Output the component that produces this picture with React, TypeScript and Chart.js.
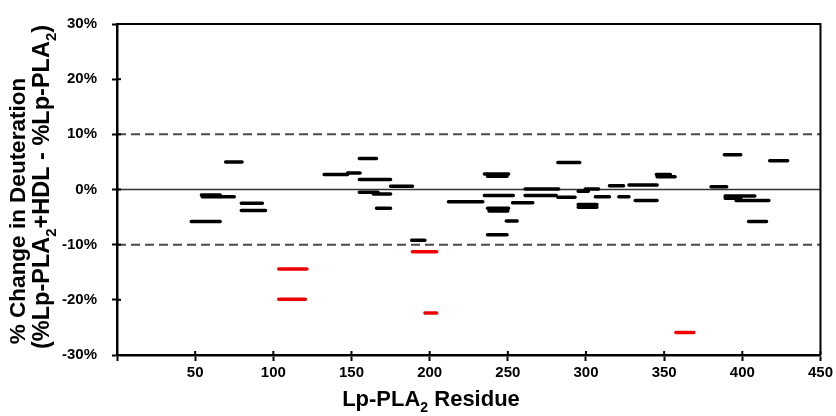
import { useEffect, useRef } from 'react';
import { Chart, registerables } from 'chart.js';

Chart.register(...registerables);

// Residue ranges (start, end) and % change for black (not significant) segments
const blackStart = [47.5, 54, 54.5, 69.5, 79.5, 79.5, 132.5, 147.5, 155, 155, 175, 155, 164, 166, 188.5, 212, 235, 237, 235, 237, 238, 249, 237, 253, 261, 261, 282, 282, 295, 299.5, 295, 295, 306, 315, 321, 327.5, 331.5, 345, 345.5, 380, 388.5, 417.5, 389, 389, 396, 404];
const blackEnd = [66, 66, 75, 80, 93, 95, 147.5, 155.5, 166, 175, 189, 167, 175, 175, 197, 234, 250.5, 249.5, 253.5, 250.5, 250, 256, 249.5, 266, 282.5, 281, 296, 293, 301.5, 308, 307, 307, 315, 324, 327.5, 345.5, 345.5, 354, 357, 390, 399, 429, 408, 399, 417, 415.5];
const blackValue = [-5.8, -1.0, -1.3, 5.0, -2.5, -3.8, 2.7, 3.0, 5.6, 1.8, 0.6, -0.5, -0.8, -3.4, -9.2, -2.2, 2.8, 2.4, -1.1, -3.4, -3.9, -5.7, -8.2, -2.4, 0.1, -1.1, 4.9, -1.4, -0.3, 0.1, -2.7, -3.2, -1.3, 0.7, -1.3, 0.8, -2.0, 2.7, 2.3, 0.5, 6.3, 5.2, -1.2, -1.6, -2.0, -5.8];

// Significant (red) segments
const redStart = [103.5, 103.5, 189, 197, 357.5];
const redEnd = [121.5, 120.5, 204.5, 204.5, 369];
const redValue = [-14.4, -19.9, -11.3, -22.4, -25.9];

// Reference levels
const refLevels = [10, 0, -10];
const refDashed = [true, false, true];

const xMin = 0;
const xMax = 450;
const xStep = 50;
const yMin = -30;
const yMax = 30;
const yStep = 10;

const xTitleParts = [
  { text: 'Lp-PLA', sub: false },
  { text: '2', sub: true },
  { text: ' Residue', sub: false },
];
const yTitle1Parts = [{ text: '% Change in Deuteration', sub: false }];
const yTitle2Parts = [
  { text: '(%Lp-PLA', sub: false },
  { text: '2', sub: true },
  { text: '+HDL - %Lp-PLA', sub: false },
  { text: '2', sub: true },
  { text: ')', sub: false },
];

const FAMILY = '"Liberation Sans", Arial, Helvetica, sans-serif';

function buildSegments(starts: number[], ends: number[], values: number[]) {
  const pts: { x: number; y: number | null }[] = [];
  for (let i = 0; i < starts.length; i++) {
    pts.push({ x: starts[i], y: values[i] });
    pts.push({ x: ends[i], y: values[i] });
    pts.push({ x: ends[i], y: null });
  }
  return pts;
}

type Part = { text: string; sub: boolean };

function drawRich(ctx: CanvasRenderingContext2D, parts: Part[], cx: number, cy: number, size: number, rotate: boolean) {
  ctx.save();
  ctx.translate(cx, cy);
  if (rotate) ctx.rotate(-Math.PI / 2);
  const mainFont = `bold ${size}px ${FAMILY}`;
  const subFont = `bold ${Math.round(size * 0.62)}px ${FAMILY}`;
  let total = 0;
  const widths: number[] = [];
  for (const p of parts) {
    ctx.font = p.sub ? subFont : mainFont;
    const w = ctx.measureText(p.text).width;
    widths.push(w);
    total += w;
  }
  let x = -total / 2;
  ctx.fillStyle = '#000';
  ctx.textBaseline = 'middle';
  ctx.textAlign = 'left';
  parts.forEach((p, i) => {
    ctx.font = p.sub ? subFont : mainFont;
    ctx.fillText(p.text, x, p.sub ? size * 0.38 : 0);
    x += widths[i];
  });
  ctx.restore();
}

const decorPlugin = {
  id: 'decor',
  afterDraw(chart: any) {
    const { ctx, chartArea } = chart;
    const xs = chart.scales.x;
    const ys = chart.scales.y;
    ctx.save();
    ctx.strokeStyle = '#000';
    ctx.lineWidth = 2;
    ctx.beginPath();
    ctx.moveTo(chartArea.left, chartArea.top);
    ctx.lineTo(chartArea.right, chartArea.top);
    ctx.lineTo(chartArea.right, chartArea.bottom);
    ctx.stroke();
    // inner tick halves
    ctx.lineWidth = 2;
    for (let v = yMin; v <= yMax; v += yStep) {
      const py = ys.getPixelForValue(v);
      ctx.beginPath();
      ctx.moveTo(chartArea.left, py);
      ctx.lineTo(chartArea.left + 4, py);
      ctx.stroke();
    }
    for (let v = xMin; v <= xMax; v += xStep) {
      const px = xs.getPixelForValue(v);
      ctx.beginPath();
      ctx.moveTo(px, chartArea.bottom);
      ctx.lineTo(px, chartArea.bottom - 4);
      ctx.stroke();
    }
    ctx.restore();
    drawRich(ctx, xTitleParts, 431, 400, 22, false);
    drawRich(ctx, yTitle1Parts, 19, 211, 22.5, true);
    drawRich(ctx, yTitle2Parts, 43, 187, 23.5, true);
  },
};

export default function App() {
  const ref = useRef<HTMLCanvasElement | null>(null);
  useEffect(() => {
    document.body.style.margin = '0';
    const canvas = ref.current;
    if (!canvas) return;
    const refDatasets = refLevels.map((lvl, i) => ({
      data: [
        { x: xMin, y: lvl },
        { x: xMax, y: lvl },
      ],
      showLine: true,
      borderColor: refDashed[i] ? '#4a4a4a' : '#333333',
      borderWidth: refDashed[i] ? 2 : 1.5,
      borderDash: refDashed[i] ? [9, 5] : [],
      pointRadius: 0,
      order: 10,
    }));
    const chart = new Chart(canvas, {
      type: 'scatter',
      data: {
        datasets: [
          {
            data: buildSegments(blackStart, blackEnd, blackValue),
            showLine: true,
            spanGaps: false,
            borderColor: '#000000',
            borderWidth: 3.5,
            borderCapStyle: 'round',
            pointRadius: 0,
            order: 1,
          },
          {
            data: buildSegments(redStart, redEnd, redValue),
            showLine: true,
            spanGaps: false,
            borderColor: '#f00000',
            borderWidth: 3.5,
            borderCapStyle: 'round',
            pointRadius: 0,
            order: 0,
          },
          ...refDatasets,
        ] as any,
      },
      options: {
        responsive: false,
        animation: false,
        devicePixelRatio: 1,
        events: [],
        layout: { padding: { top: 19, right: 6, left: 0, bottom: 0 } },
        plugins: { legend: { display: false }, tooltip: { enabled: false }, title: { display: false } },
        scales: {
          x: {
            type: 'linear',
            min: xMin,
            max: xMax,
            ticks: {
              stepSize: xStep,
              autoSkip: false,
              maxRotation: 0,
              color: '#000',
              padding: 3,
              font: { family: FAMILY, size: 15, weight: 'bold' },
              callback: (v: any) => (v === 0 ? '' : String(v)),
            },
            grid: { drawOnChartArea: false, drawTicks: true, tickLength: 6, tickColor: '#000', tickWidth: 2 },
            border: { color: '#000', width: 2.5 },
            afterFit: (s: any) => {
              s.height = 61;
            },
          },
          y: {
            type: 'linear',
            min: yMin,
            max: yMax,
            ticks: {
              stepSize: yStep,
              color: '#000',
              padding: 15,
              font: { family: FAMILY, size: 15, weight: 'bold' },
              callback: (v: any) => `${v}%`,
            },
            grid: { drawOnChartArea: false, drawTicks: true, tickLength: 5, tickColor: '#000', tickWidth: 2 },
            border: { color: '#000', width: 2.5 },
            afterFit: (s: any) => {
              s.width = 117;
            },
          },
        },
      },
      plugins: [decorPlugin],
    } as any);
    return () => chart.destroy();
  }, []);
  return (
    <div style={{ position: 'absolute', left: 0, top: 0, width: 836, height: 416, background: '#fff' }}>
      <canvas ref={ref} width={836} height={416} style={{ width: 836, height: 416, display: 'block' }} />
    </div>
  );
}
